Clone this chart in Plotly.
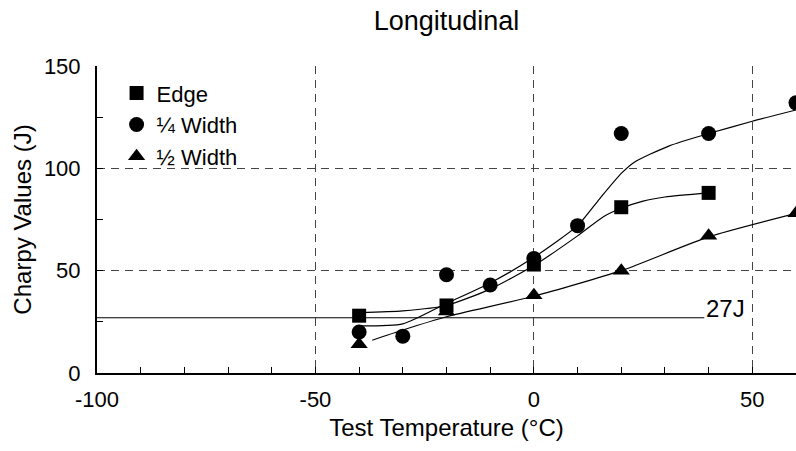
import plotly.graph_objects as go

# Measured points
edge_x = [-40, -20, 0, 20, 40]
edge_y = [28, 33, 53, 81, 88]
quarter_x = [-40, -30, -20, -10, 0, 10, 20, 40, 60]
quarter_y = [20, 18, 48, 43, 56, 72, 117, 117, 132]
half_x = [-40, -20, 0, 20, 40, 60]
half_y = [14, 30, 38, 50, 67, 78]

# Fitted curves
edge_fit_x = [-40, -30, -20, -10, 0, 10, 16, 20, 25, 30, 40]
edge_fit_y = [29.5, 30.4, 33, 41, 52.5, 67, 76.5, 80.5, 84, 86, 88]
quarter_fit_x = [-40, -30, -20, -10, 0, 10, 15, 20, 23, 31, 40, 50, 60]
quarter_fit_y = [23, 24, 34, 44, 56.5, 72, 85, 97.5, 103, 111, 117, 123, 128.5]
half_fit_x = [-37, -30, -20, 0, 20, 40, 60]
half_fit_y = [16, 21, 27.5, 37.5, 50, 66.5, 78]

# 27 J threshold
thr_x = [-100, 39]
thr_y = [27, 27]
thr_label = "27J"

FONT = "Liberation Sans, Arial, sans-serif"

fig = go.Figure()
line_style = dict(color="black", width=1.2, shape="spline", smoothing=0.6)
for fx, fy in [(edge_fit_x, edge_fit_y), (quarter_fit_x, quarter_fit_y), (half_fit_x, half_fit_y)]:
    fig.add_trace(go.Scatter(x=fx, y=fy, mode="lines", line=line_style, showlegend=False, hoverinfo="skip"))
fig.add_trace(go.Scatter(x=thr_x, y=thr_y, mode="lines", line=dict(color="black", width=1.2), showlegend=False))

fig.add_trace(go.Scatter(x=edge_x, y=edge_y, mode="markers", name="Edge",
                         marker=dict(symbol="square", size=14, color="black")))
fig.add_trace(go.Scatter(x=quarter_x, y=quarter_y, mode="markers", name="¼ Width",
                         marker=dict(symbol="circle", size=15, color="black")))
fig.add_trace(go.Scatter(x=half_x, y=half_y, mode="markers", name="½ Width",
                         marker=dict(symbol="triangle-up", size=15, color="black")))

fig.add_annotation(x=thr_x[-1], y=thr_y[-1], text=thr_label, showarrow=False,
                   xanchor="left", yanchor="bottom", yshift=-6, xshift=0,
                   font=dict(family=FONT, size=24, color="black"))

fig.update_layout(
    width=796, height=451,
    margin=dict(l=97, r=0, t=66, b=78),
    paper_bgcolor="white", plot_bgcolor="white",
    font=dict(family=FONT, size=22, color="black"),
    title=dict(text="Longitudinal", x=(97 + 796) / 2 / 796, xanchor="center",
               y=1 - 21 / 451, yanchor="middle", yref="container",
               font=dict(family=FONT, size=27, color="black")),
    showlegend=True,
    legend=dict(x=0.028, y=0.98, xanchor="left", yanchor="top",
                bgcolor="rgba(0,0,0,0)", font=dict(family=FONT, size=22),
                tracegroupgap=0),
)
fig.update_xaxes(
    range=[-100, 60], tickvals=[-100, -50, 0, 50], ticktext=["-100", "-50", "0", "50"],
    showline=True, linecolor="black", linewidth=2,
    showgrid=True, gridcolor="#444444", gridwidth=1, griddash="8px,6px",
    ticks="inside", ticklen=6, tickcolor="black",
    minor=dict(dtick=10, tick0=0, ticks="inside", ticklen=6, tickcolor="black", showgrid=False),
    zeroline=False, ticklabelstandoff=6,
    title=dict(text="Test Temperature (°C)", standoff=8, font=dict(family=FONT, size=24)),
)
fig.update_yaxes(
    range=[0, 150], tickvals=[0, 50, 100, 150],
    showline=True, linecolor="black", linewidth=2,
    showgrid=True, gridcolor="#444444", gridwidth=1, griddash="8px,6px",
    ticks="inside", ticklen=6, tickcolor="black",
    minor=dict(dtick=25, tick0=0, ticks="inside", ticklen=6, tickcolor="black", showgrid=False),
    zeroline=False, ticklabelstandoff=10,
    title=dict(text="Charpy Values (J)", standoff=5, font=dict(family=FONT, size=24)),
)

fig.write_html("out.html")
